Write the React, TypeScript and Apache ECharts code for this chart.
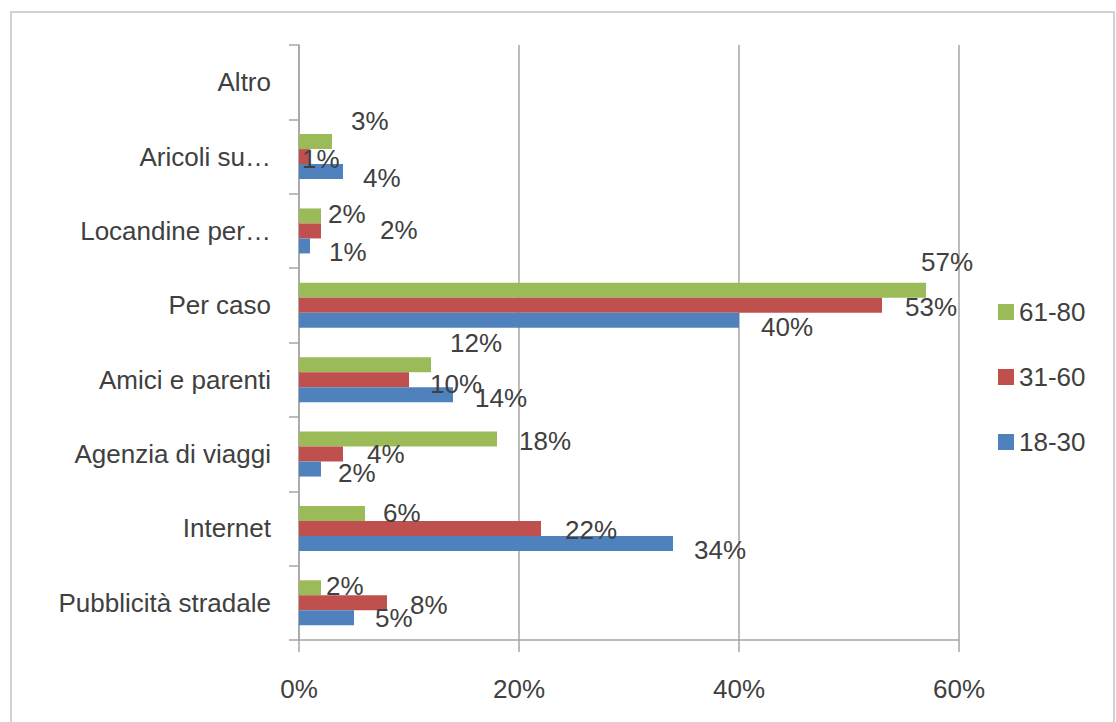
import React, { useEffect, useRef } from "react";
import * as echarts from "echarts";

const categories = [
  "Pubblicità stradale",
  "Internet",
  "Agenzia di viaggi",
  "Amici e parenti",
  "Per caso",
  "Locandine per…",
  "Aricoli su…",
  "Altro",
];
const seriesNames = ["61-80", "31-60", "18-30"];
const values6180 = [2, 6, 18, 12, 57, 2, 3, null];
const values3160 = [8, 22, 4, 10, 53, 2, 1, null];
const values1830 = [5, 34, 2, 14, 40, 1, 4, null];
const xTicks = [0, 20, 40, 60];

// label nudges (styling only), [dx, dy] per category
const offs6180 = [[0, -2], [13, 0], [17, 2], [14, -22], [-10, -28], [2, -2], [14, -21], [0, 0]];
const offs3160 = [[18, 2], [19, 2], [19, 0], [16, 4], [18, 2], [54, -1], [-13, 2], [0, 0]];
const offs1830 = [[16, 0], [16, 7], [12, 4], [17, 3], [17, 7], [14, 6], [15, 6], [0, 0]];

const colors = ["#9BBB59", "#C0504D", "#4F81BD"];
const FONT = "'Liberation Sans', Arial, sans-serif";
const TXT = "#404040";

export default function App() {
  const ref = useRef<HTMLDivElement>(null);
  useEffect(() => {
    if (!ref.current) return;
    const chart = echarts.init(ref.current, null, { renderer: "svg" });
    const allVals = [values6180, values3160, values1830];
    const allOffs = [offs6180, offs3160, offs1830];
    const series = seriesNames.map((name, si) => ({
      name,
      type: "bar",
      barWidth: 15,
      barGap: "0%",
      itemStyle: { color: colors[si] },
      label: {
        show: true,
        position: "right",
        distance: 5,
        formatter: (p: any) => (p.value == null ? "" : p.value + "%"),
        fontFamily: FONT,
        fontSize: 26,
        color: TXT,
      },
      data: allVals[si].map((v, i) => ({
        value: v,
        label: { offset: allOffs[si][i] },
      })),
    }));
    chart.setOption({
      animation: false,
      textStyle: { fontFamily: FONT },
      graphic: [
        {
          type: "rect",
          shape: { x: 11, y: 12, width: 1103, height: 730 },
          style: { fill: "none", stroke: "#c4c4c4", lineWidth: 1.5 },
          silent: true,
          z: -10,
        },
      ],
      legend: {
        orient: "vertical",
        left: 993,
        top: 294,
        itemWidth: 16,
        itemHeight: 16,
        itemGap: 39,
        icon: "rect",
        data: ["61-80", "31-60", "18-30"],
        textStyle: { fontFamily: FONT, fontSize: 26, color: TXT },
      },
      grid: { left: 299, right: 157, top: 45, bottom: 82, containLabel: false },
      xAxis: {
        type: "value",
        min: xTicks[0],
        max: xTicks[xTicks.length - 1],
        interval: 20,
        axisLine: { show: true, lineStyle: { color: "#a6a6a6", width: 1.5 } },
        axisTick: { show: true, length: 12, lineStyle: { color: "#a6a6a6", width: 1.5 } },
        splitLine: { show: true, lineStyle: { color: "#a6a6a6", width: 1.5 } },
        axisLabel: {
          formatter: "{value}%",
          fontFamily: FONT,
          fontSize: 26,
          color: TXT,
          margin: 36,
        },
      },
      yAxis: {
        type: "category",
        data: categories,
        axisLine: { show: true, lineStyle: { color: "#a6a6a6", width: 1.5 } },
        axisTick: { show: true, length: 10, lineStyle: { color: "#a6a6a6", width: 1.5 } },
        axisLabel: { fontFamily: FONT, fontSize: 26, color: TXT, margin: 28 },
      },
      series,
    });
    return () => chart.dispose();
  }, []);
  return (
    <div
      ref={ref}
      style={{ position: "absolute", left: 0, top: 0, width: 1116, height: 722, background: "#fff" }}
    />
  );
}
